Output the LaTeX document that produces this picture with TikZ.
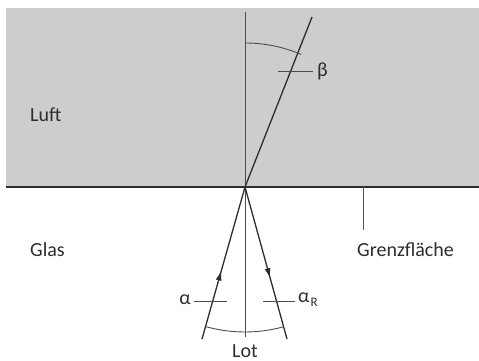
\documentclass[tikz,border=0pt]{standalone}
\usepackage{fontspec}
\setmainfont{Carlito}
\usetikzlibrary{arrows.meta,decorations.markings}
\definecolor{luftgray}{RGB}{204,205,207}
\definecolor{ink}{RGB}{45,45,45}
\tikzset{
  ray/.style={draw=ink, line width=1.3pt},
  thinline/.style={draw=ink!85, line width=0.9pt},
  lbl/.style={font=\fontsize{20}{23}\selectfont, text=ink, inner sep=0pt},
  midarrow/.style={postaction={decorate, decoration={markings, mark=at position #1 with {\arrow{Latex[length=10pt,width=6pt]}}}}}
}
\begin{document}
\begin{tikzpicture}[x=1pt,y=-1pt]
\useasboundingbox (0,0) rectangle (479,361);
\fill[luftgray] (6,8) rectangle (479,187);
\coordinate (O) at (245,187);
\coordinate (L) at (6,187);
\coordinate (R) at (479,187);
\draw[draw=ink, line width=1.8pt] (L) -- (R);
% normal
\coordinate (lotTop) at (245,12);
\coordinate (lotBot) at (245,337);
\draw[thinline] (lotTop) -- (lotBot);
% refracted ray
\coordinate (refr) at (312,17);
\draw[ray] (O) -- (refr);
% incident and reflected
\coordinate (inc) at (202,339);
\coordinate (refl) at (287,339);
\draw[ray, midarrow=0.45] (inc) -- (O);
\draw[ray, midarrow=0.6] (O) -- (refl);
% angle arcs
\draw[thinline] (O) ++(-90:144) arc[start angle=-90, end angle=-67, radius=144];
\draw[thinline] (O) ++(105.8:145) arc[start angle=105.8, end angle=74.4, radius=145];
% labels with ticks
\coordinate (bt1) at (278,71); \coordinate (bt2) at (313,71);
\draw[thinline] (bt1) -- (bt2);
\node[lbl, anchor=west] (beta) at (317,71) {β};
\coordinate (at1) at (194,301); \coordinate (at2) at (227,301);
\draw[thinline] (at1) -- (at2);
\node[lbl, anchor=east] (alpha) at (191,300) {α};
\coordinate (rt1) at (263,301); \coordinate (rt2) at (295,301);
\draw[thinline] (rt1) -- (rt2);
\node[lbl, anchor=west] (alphaR) at (298,300) {α\kern1pt\raisebox{-4pt}{\fontsize{13}{15}\selectfont R}};
\node[lbl] (lot) at (245,351) {Lot};
\node[lbl, anchor=west] (luft) at (30,115) {Luft};
\node[lbl, anchor=west] (glas) at (30,250) {Glas};
\node[lbl, anchor=west] (grenz) at (357,250) {Grenzfläche};
\coordinate (gz1) at (363,187); \coordinate (gz2) at (363,230);
\draw[draw=ink!80, line width=0.8pt] (gz1) -- (gz2);
\end{tikzpicture}
\end{document}
